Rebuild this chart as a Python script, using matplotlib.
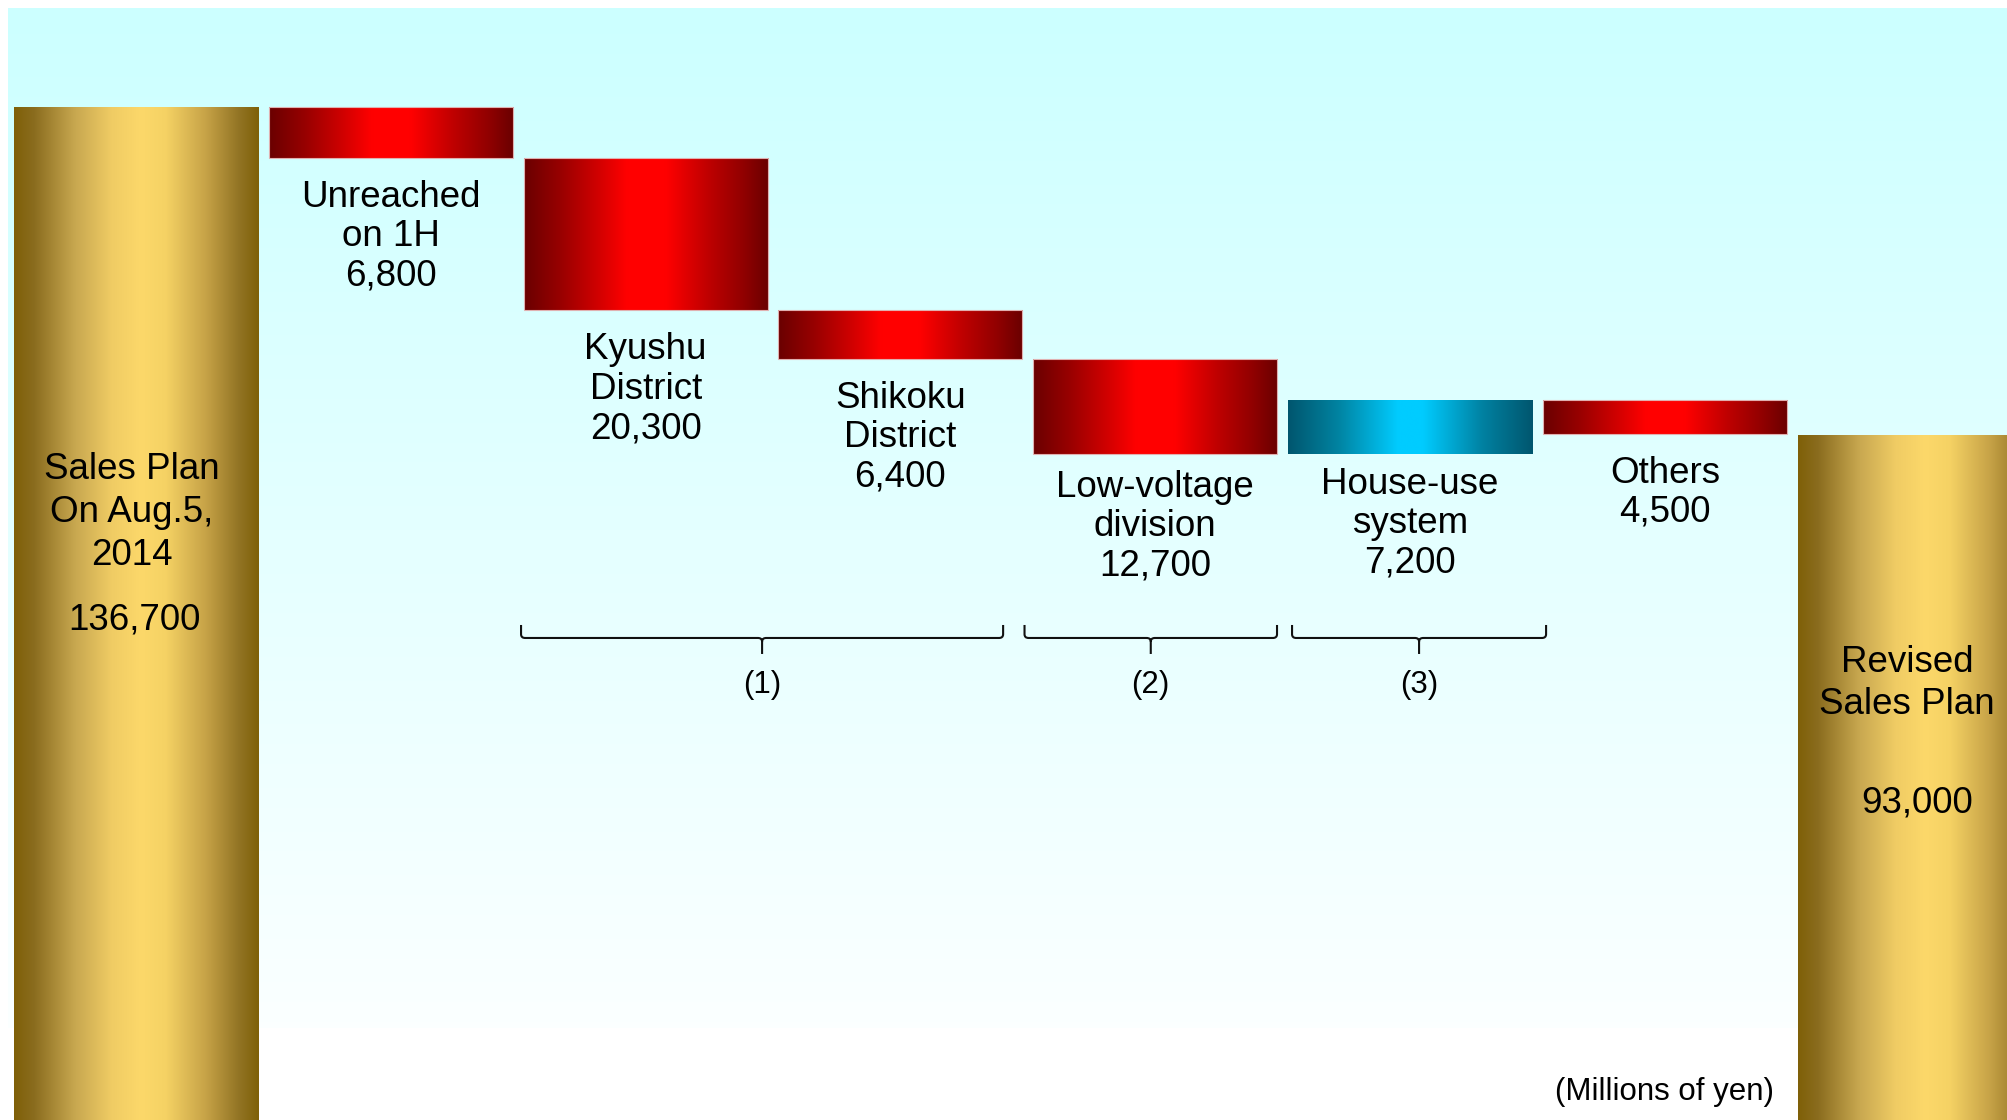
import numpy as np
import matplotlib
matplotlib.use("Agg")
import matplotlib.pyplot as plt
from matplotlib.colors import LinearSegmentedColormap
from matplotlib.path import Path
from matplotlib.patches import PathPatch

plt.rcParams['font.family'] = ['Liberation Sans', 'DejaVu Sans']

# ---------------- data ----------------
categories = ["Sales Plan\nOn Aug.5,\n2014", "Unreached\non 1H", "Kyushu\nDistrict",
              "Shikoku\nDistrict", "Low-voltage\ndivision", "House-use\nsystem",
              "Others", "Revised\nSales Plan"]
start_value = 136700
changes = [-6800, -20300, -6400, -12700, 7200, -4500]
end_value = 93000
value_labels = ["136,700", "6,800", "20,300", "6,400", "12,700", "7,200", "4,500", "93,000"]
group_labels = ["(1)", "(2)", "(3)"]
unit_label = "(Millions of yen)"

# ---------------- style ----------------
gold = LinearSegmentedColormap.from_list("gold", [
    (0.0, "#7f6008"), (0.08, "#8a6c1e"), (0.25, "#c8a850"), (0.40, "#f0cc64"),
    (0.52, "#fcd86a"), (0.62, "#f5d264"), (0.78, "#c8a448"), (0.92, "#927424"),
    (1.0, "#7f6008")])
red = LinearSegmentedColormap.from_list("red", [
    (0.0, "#6a0000"), (0.15, "#990000"), (0.30, "#d00000"), (0.42, "#ff0000"),
    (0.58, "#ff0000"), (0.75, "#c00000"), (0.90, "#900000"), (1.0, "#6a0000")])
blue = LinearSegmentedColormap.from_list("blue", [
    (0.0, "#00566e"), (0.20, "#0082a0"), (0.45, "#00ccff"), (0.55, "#00ccff"),
    (0.80, "#0080a0"), (1.0, "#00566e")])
bg = LinearSegmentedColormap.from_list("bg", ["#fbffff", "#ccffff"])

W, H = 2007, 1120
fig = plt.figure(figsize=(W / 100, H / 100), dpi=100)
fig.patch.set_facecolor("white")
ax = fig.add_axes([0, 0, 1, 1])
ax.set_axis_off()

# background gradient (axes fraction)
grad_v = np.linspace(0, 1, 256)[:, None]
ax.imshow(grad_v, cmap=bg, origin="lower", aspect="auto",
          extent=(8 / W, 1, (H - 1028) / H, (H - 8) / H),
          transform=ax.transAxes, zorder=0, interpolation="bicubic")

# ---------------- waterfall geometry from data ----------------
n = len(categories)
xs = np.arange(n)
bottoms, heights, cmaps, edges = [], [], [], []
bottoms.append(0); heights.append(start_value); cmaps.append(gold); edges.append("none")
running = start_value
for d in changes:
    new = running + d
    bottoms.append(min(running, new))
    heights.append(abs(d))
    cmaps.append(red if d < 0 else blue)
    edges.append("#e0b0b0" if d < 0 else "none")
    running = new
bottoms.append(0); heights.append(end_value); cmaps.append(gold); edges.append("none")

width = 0.958
bars = ax.bar(xs, heights, bottom=bottoms, width=width, color="none",
              edgecolor=edges, linewidth=0.8, zorder=3)
grad_h = np.linspace(0, 1, 256)[None, :]
for bar, cm in zip(bars, cmaps):
    x0, y0 = bar.get_x(), bar.get_y()
    im = ax.imshow(grad_h, cmap=cm, aspect="auto", interpolation="bicubic",
                   extent=(x0, x0 + bar.get_width(), y0, y0 + bar.get_height()),
                   zorder=2)
    im.set_clip_path(bar)

# axis scale (value -> pixel is linear)
ax.set_xlim(-0.534, 7.343)
ax.set_ylim(1824, 150939)

# ---------------- labels ----------------
FS = 26.5
FS_S = 22.5
gap_px = [22, 22, 22, 16, 13, 22]
for i in range(1, n - 1):
    b = bars[i]
    ax.annotate(categories[i] + "\n" + value_labels[i],
                xy=(b.get_x() + b.get_width() / 2, b.get_y()),
                xytext=(0, -gap_px[i - 1]), textcoords="offset pixels",
                ha="center", va="top", fontsize=FS, linespacing=1.16,
                multialignment="center", zorder=5)

ax.text(-0.016, 82700, categories[0], ha="center", va="center", fontsize=FS,
        linespacing=1.30, multialignment="center", zorder=5)
ax.text(-0.008, 68400, value_labels[0], ha="center", va="center", fontsize=FS, zorder=5)
ax.text(6.95, 60000, categories[-1], ha="center", va="center", fontsize=FS,
        linespacing=1.26, multialignment="center", zorder=5)
ax.text(6.99, 44000, value_labels[-1], ha="center", va="center", fontsize=FS, zorder=5)

# ---------------- braces ----------------
brace_spans = [(1.511, 3.403), (3.487, 4.478), (4.537, 5.534)]
y_top, y_line, y_tip, y_lab = 67730, 66000, 63870, 59740
rx, ry = 0.016, 500


def brace(xa, xb, tip):
    xc = (xa + xb) / 2
    verts = [(xa, y_top), (xa, y_line + ry), (xa, y_line), (xa + rx, y_line),
             (xc - rx, y_line), (xc, y_line), (xc, y_line - ry), (xc, tip),
             (xb, y_top), (xb, y_line + ry), (xb, y_line), (xb - rx, y_line),
             (xc + rx, y_line), (xc, y_line), (xc, y_line - ry)]
    codes = [Path.MOVETO, Path.LINETO, Path.CURVE3, Path.CURVE3,
             Path.LINETO, Path.CURVE3, Path.CURVE3, Path.LINETO,
             Path.MOVETO, Path.LINETO, Path.CURVE3, Path.CURVE3,
             Path.LINETO, Path.CURVE3, Path.CURVE3]
    ax.add_patch(PathPatch(Path(verts, codes), facecolor="none",
                           edgecolor="#111111", linewidth=1.5, zorder=4))
    return xc


for (xa, xb), lab in zip(brace_spans, group_labels):
    xc = brace(xa, xb, y_tip)
    ax.text(xc, y_lab, lab, ha="center", va="center", fontsize=FS_S, zorder=5)

ax.text(1774 / W, (H - 1092) / H, unit_label, transform=ax.transAxes,
        ha="right", va="center", fontsize=FS_S, zorder=5)

fig.savefig("out.png", dpi=100, facecolor="white")
